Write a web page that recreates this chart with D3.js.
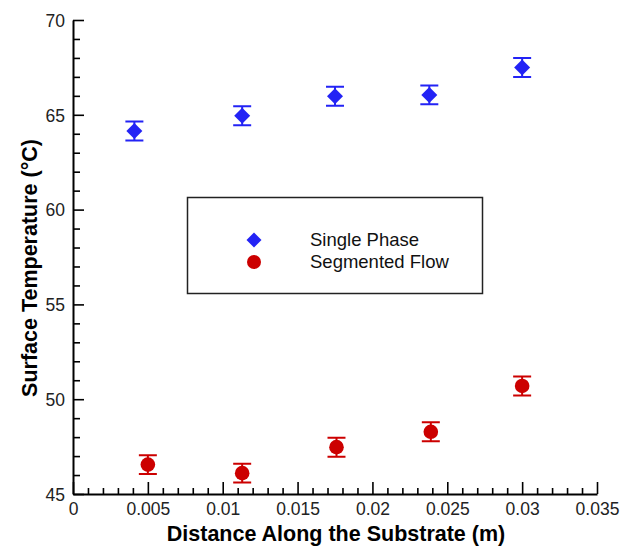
<!DOCTYPE html>
<html>
<head>
<meta charset="utf-8">
<title></title>
<script src="https://cdn.jsdelivr.net/npm/d3@7"></script>
<style>
  body { margin: 0; background: #fff; }
  text { font-family: Arial, "Liberation Sans", sans-serif; }
</style>
</head>
<body>
<script>
// data
const seriesNames = ['Single Phase', 'Segmented Flow']
const singleX = [0.0041, 0.0113, 0.0175, 0.0238, 0.0300]
const singleY = [64.15, 64.95, 65.98, 66.05, 67.50]
const singleErr = [0.5, 0.5, 0.5, 0.5, 0.5]
const segX = [0.0050, 0.0113, 0.0176, 0.0239, 0.0300]
const segY = [46.55, 46.10, 47.47, 48.28, 50.70]
const segErr = [0.5, 0.5, 0.5, 0.5, 0.5]

const xTicks = [0, 0.005, 0.01, 0.015, 0.02, 0.025, 0.03, 0.035]
const xTickLabels = ['0', '0.005', '0.01', '0.015', '0.02', '0.025', '0.03', '0.035']
const yTicks = [45, 50, 55, 60, 65, 70]
const yTickLabels = ['45', '50', '55', '60', '65', '70']

const width = 640
const height = 547
const margin = { top: 20, right: 43, bottom: 53, left: 73 }

const blue = '#2323f5'
const red = '#cc0000'

const svg = d3.select('body')
    .append('svg')
    .attr('width', width)
    .attr('height', height)

const x = d3.scaleLinear()
    .domain([0, 0.035])
    .range([margin.left, width - margin.right])

const y = d3.scaleLinear()
    .domain([45, 70])
    .range([height - margin.bottom, margin.top])

// minor ticks
const xMinor = d3.range(0, 0.0351, 0.001).filter(v => Math.round(v * 1000) % 5 !== 0)
const yMinor = d3.range(45, 70.1, 1).filter(v => v % 5 !== 0)

svg.append('g')
    .attr('transform', `translate(0,${y(45)})`)
    .call(d3.axisBottom(x).tickValues(xMinor).tickSize(-6).tickSizeOuter(0).tickFormat(''))
    .call(g => g.select('.domain').remove())
svg.append('g')
    .attr('transform', `translate(${x(0)},0)`)
    .call(d3.axisLeft(y).tickValues(yMinor).tickSize(-7).tickSizeOuter(0).tickFormat(''))
    .call(g => g.select('.domain').remove())

// major ticks + labels
const xAxis = svg.append('g')
    .attr('transform', `translate(0,${y(45)})`)
    .call(d3.axisBottom(x).tickValues(xTicks).tickSize(-12).tickSizeOuter(0)
      .tickPadding(9).tickFormat((d, i) => xTickLabels[i]))
const yAxis = svg.append('g')
    .attr('transform', `translate(${x(0)},0)`)
    .call(d3.axisLeft(y).tickValues(yTicks).tickSize(-11).tickSizeOuter(0)
      .tickPadding(8).tickFormat((d, i) => yTickLabels[i]))

svg.selectAll('.tick line').attr('stroke', '#000').attr('stroke-width', 1.6)
svg.selectAll('.domain').attr('stroke', '#000').attr('stroke-width', 2)
svg.selectAll('.tick text')
    .attr('fill', '#222')
    .style('font-size', '17.5px')
    .style('font-family', 'Arial, "Liberation Sans", sans-serif')
yAxis.selectAll('.tick text').attr('dy', '0.36em')

// axis titles
svg.append('text')
    .attr('x', 336)
    .attr('y', 541)
    .attr('text-anchor', 'middle')
    .style('font-size', '21.5px')
    .style('font-weight', 'bold')
    .text('Distance Along the Substrate (m)')

svg.append('text')
    .attr('transform', 'translate(37,268) rotate(-90)')
    .attr('text-anchor', 'middle')
    .style('font-size', '21.5px')
    .style('font-weight', 'bold')
    .text('Surface Temperature (°C)')

const diamond = s => `M0,${-s}L${s},0L0,${s}L${-s},0Z`

function drawSeries(xs, ys, errs, color, shape) {
  const g = svg.append('g')
  xs.forEach((xv, i) => {
    const cx = x(xv)
    const top = y(ys[i] + errs[i])
    const bot = y(ys[i] - errs[i])
    g.append('path')
        .attr('d', `M${cx},${top}V${bot}M${cx - 9},${top}H${cx + 9}M${cx - 9},${bot}H${cx + 9}`)
        .attr('stroke', color)
        .attr('stroke-width', 2)
        .attr('fill', 'none')
    if (shape === 'diamond') {
      g.append('path')
          .attr('transform', `translate(${cx},${y(ys[i])})`)
          .attr('d', diamond(8))
          .attr('fill', color)
    } else {
      g.append('circle')
          .attr('cx', cx)
          .attr('cy', y(ys[i]))
          .attr('r', 7.3)
          .attr('fill', color)
    }
  })
}

drawSeries(singleX, singleY, singleErr, blue, 'diamond')
drawSeries(segX, segY, segErr, red, 'circle')

// legend
const legend = svg.append('g')
legend.append('rect')
    .attr('x', 187.5)
    .attr('y', 197.5)
    .attr('width', 295)
    .attr('height', 96)
    .attr('fill', '#fff')
    .attr('stroke', '#222')
    .attr('stroke-width', 1.5)
legend.append('path')
    .attr('transform', 'translate(254,240)')
    .attr('d', diamond(7.5))
    .attr('fill', blue)
legend.append('circle')
    .attr('cx', 254)
    .attr('cy', 262)
    .attr('r', 7)
    .attr('fill', red)
legend.selectAll('text.lbl')
    .data(seriesNames)
    .enter()
    .append('text')
    .attr('class', 'lbl')
    .attr('x', 310)
    .attr('y', (d, i) => 246 + i * 22)
    .attr('fill', '#111')
    .style('font-size', '18.5px')
    .text(d => d)
</script>
</body>
</html>
